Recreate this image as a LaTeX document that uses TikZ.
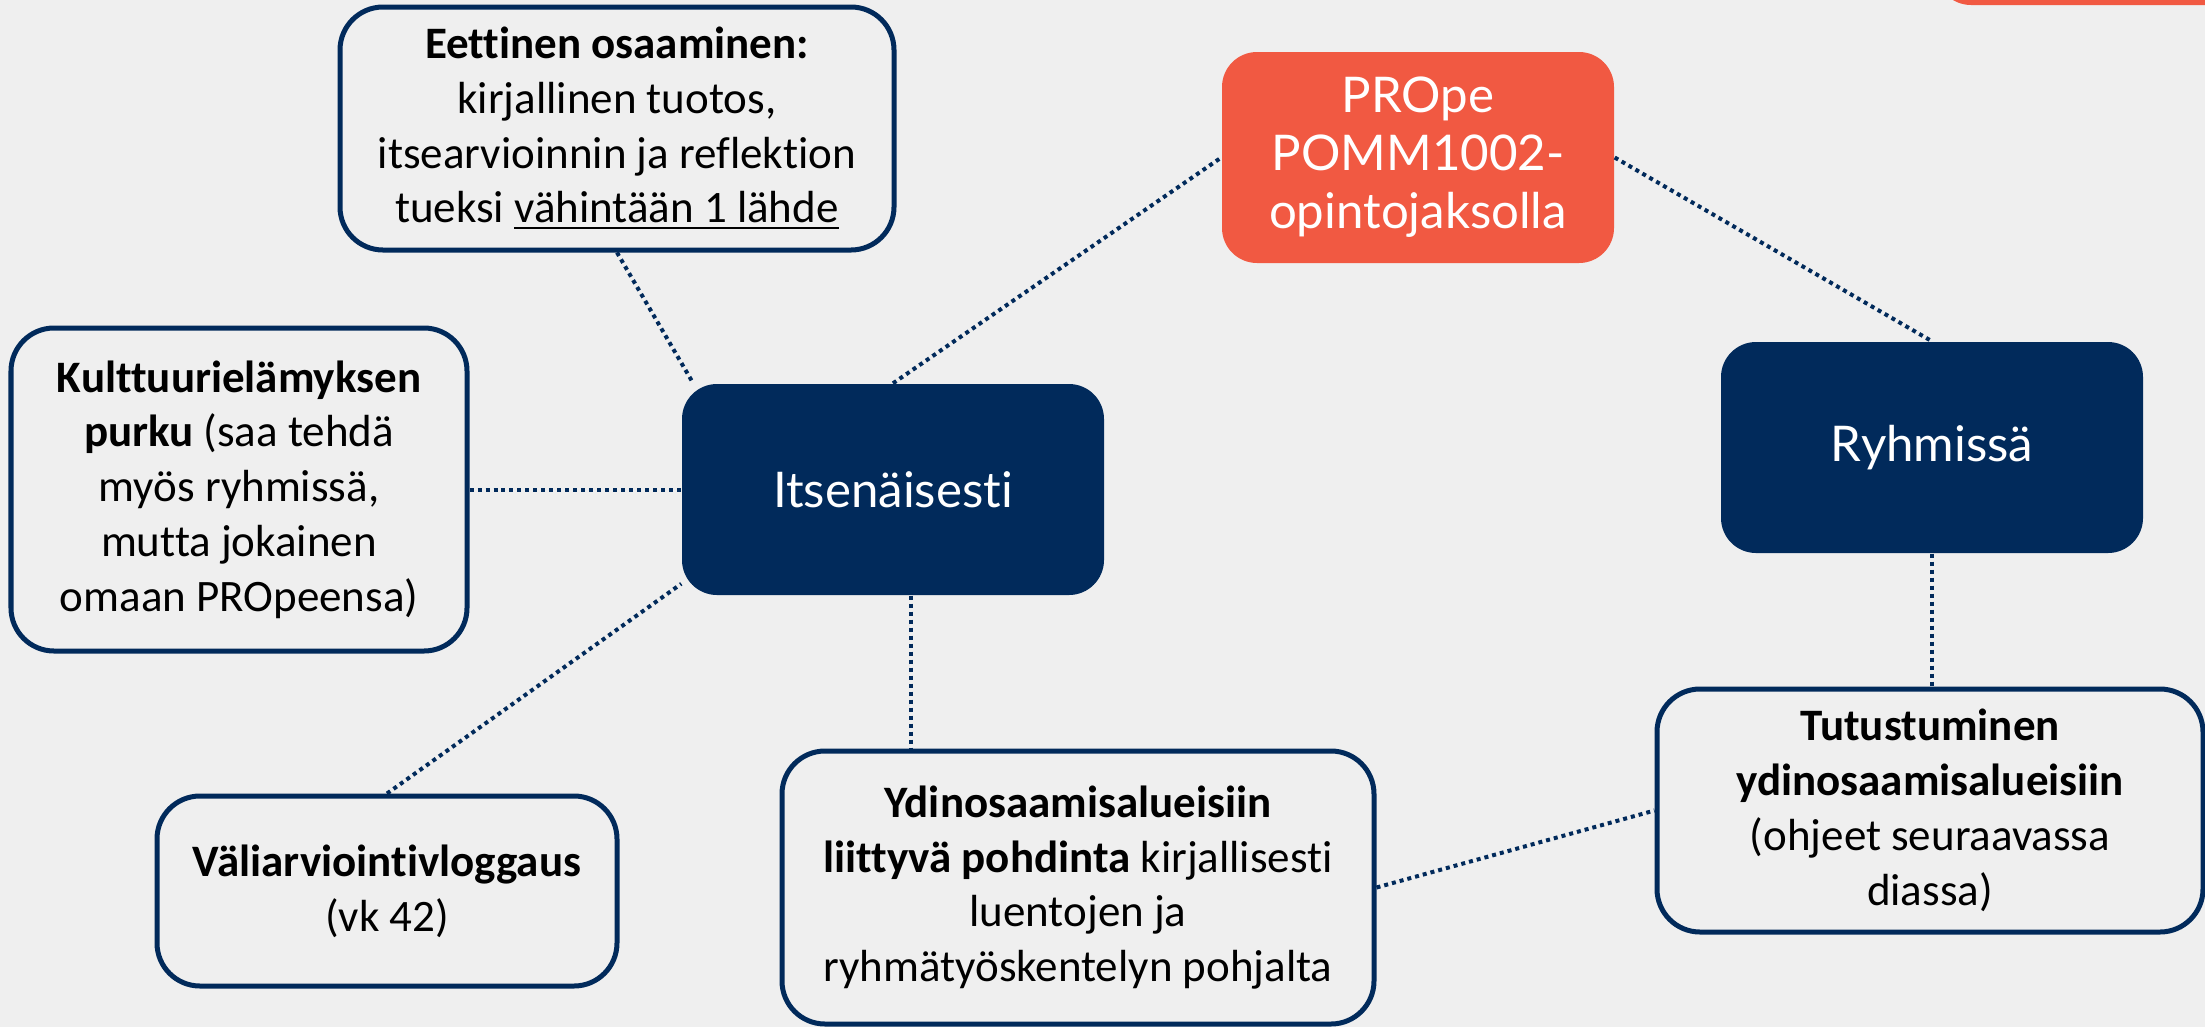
\documentclass[tikz,border=0pt]{standalone}
\usepackage{fontspec}
\setmainfont{Carlito}[Ligatures=NoCommon]
\newfontfamily\latofont{Lato}[Ligatures=NoCommon]
\definecolor{navy}{RGB}{1,42,91}
\definecolor{propeorange}{RGB}{241,89,66}
\definecolor{slidegray}{RGB}{239,239,239}

\begin{document}
\begin{tikzpicture}[
  taskbox/.style={draw=navy, line width=0.05cm, rounded corners=0.43cm,
    fill=slidegray, align=center, inner sep=0pt,
    font=\fontsize{12.8}{15.6}\selectfont},
  mainbox/.style={fill=navy, rounded corners=0.35cm, text=white,
    align=center, inner sep=0pt, font=\latofont\fontsize{14}{16.5}\selectfont},
  link/.style={navy, line width=0.04cm, dash pattern=on 0.04cm off 0.04cm}]

  % tausta ja rajaus
  \fill[slidegray] (0,0) rectangle (22.05,-10.27);
  \clip (0,0) rectangle (22.05,-10.27);
  \fill[propeorange, rounded corners=0.35cm] (19.36,-0.05) rectangle (23,1);

  % keskuslaatikot
  \node[mainbox, minimum width=4.22cm, minimum height=2.11cm] (its) at (8.93,-4.895) {Itsenäisesti};
  \node[mainbox, fill=propeorange, minimum width=3.92cm, minimum height=2.11cm] (prope)
    at (14.18,-1.575) {PROpe\\POMM1002-\\opintojaksolla};
  \node[mainbox, minimum width=4.22cm, minimum height=2.11cm] (ryh) at (19.32,-4.475) {Ryhmissä};

  % tehtävät
  \node[taskbox, minimum width=5.54cm, minimum height=2.43cm] (eth) at (6.17,-1.285)
    {\textbf{Eettinen osaaminen:}\\kirjallinen tuotos,\\itsearvioinnin ja reflektion\\tueksi \underline{vähintään 1 lähde}};
  \node[taskbox, minimum width=4.56cm, minimum height=3.23cm] (kult) at (2.39,-4.895)
    {\textbf{Kulttuurielämyksen}\\\textbf{purku} (saa tehdä\\myös ryhmissä,\\mutta jokainen\\omaan PROpeensa)};
  \node[taskbox, minimum width=4.60cm, minimum height=1.90cm] (vali) at (3.87,-8.91)
    {\textbf{Väliarviointivloggaus}\\(vk 42)};
  \node[taskbox, minimum width=5.92cm, minimum height=2.73cm] (ydin) at (10.78,-8.875)
    {\textbf{Ydinosaamisalueisiin}\\\textbf{liittyvä pohdinta} kirjallisesti\\luentojen ja\\ryhmätyöskentelyn pohjalta};
  \node[taskbox, minimum width=5.46cm, minimum height=2.43cm] (tutu) at (19.30,-8.105)
    {\textbf{Tutustuminen}\\\textbf{ydinosaamisalueisiin}\\(ohjeet seuraavassa\\diassa)};

  % pisteviivat
  \draw[link] (eth.south) -- (its.152);
  \draw[link] (kult.east) -- (its.west);
  \draw[link] (vali.north) -- (its.204);
  \draw[link] ([xshift=0.18cm]its.south) -- ([xshift=0.18cm]its.south |- ydin.north);
  \draw[link] (its.north) -- (prope.west);
  \draw[link] (prope.east) -- (ryh.north);
  \draw[link] (ryh.south) -- (ryh.south |- tutu.north);
  \draw[link] (ydin.east) -- (tutu.west);
\end{tikzpicture}
\end{document}
